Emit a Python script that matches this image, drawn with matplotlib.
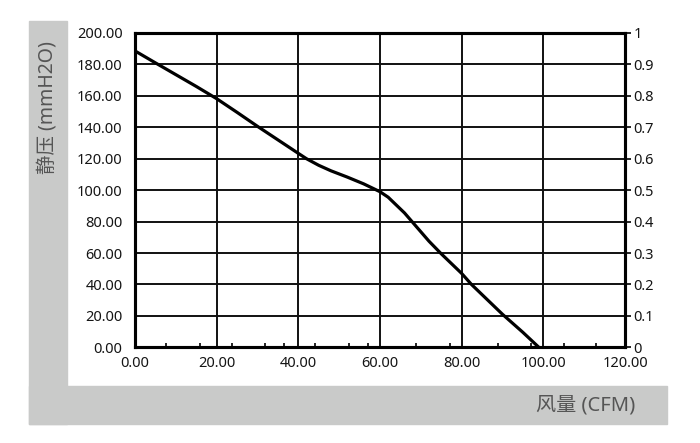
import matplotlib
matplotlib.use("Agg")
import matplotlib.pyplot as plt
from matplotlib.patches import Rectangle

plt.rcParams['font.family'] = ['Noto Sans', 'Noto Sans CJK SC', 'DejaVu Sans']

flow_cfm = [0, 5, 10, 15, 20, 25, 30, 35, 40, 42, 45, 48, 52, 56, 60, 62, 64, 66, 68, 70,
            72, 75, 80, 82.4, 85, 90, 95, 98.9]
pressure_mmh2o = [188.6, 181, 173.5, 166, 158.2, 149.5, 140.6, 132, 123.4, 120, 115.8, 112.3,
                  108.3, 104, 99, 95.5, 90.5, 85.5, 79.5, 73.5, 67.5, 59.5, 47, 40, 33.5, 21,
                  9.5, 0]

x_ticks = [0, 20, 40, 60, 80, 100, 120]
y_ticks = [0, 20, 40, 60, 80, 100, 120, 140, 160, 180, 200]
right_ticks = [0, 0.1, 0.2, 0.3, 0.4, 0.5, 0.6, 0.7, 0.8, 0.9, 1]
right_labels = ['0', '0.1', '0.2', '0.3', '0.4', '0.5', '0.6', '0.7', '0.8', '0.9', '1']
minor_x = [7.5, 16, 23.7, 31.8, 36.6, 44.2, 52.5, 57, 68.7, 77.2, 89, 97, 105, 113]

x_label = '风量 (CFM)'
y_label = '静压 (mmH2O)'

W, H = 700, 443
fig = plt.figure(figsize=(7, 4.43), dpi=100)
gray = '#c9cac9'
fig.patches.append(Rectangle((29 / W, 1 - 424 / H), (67 - 29) / W, (424 - 21) / H,
                             transform=fig.transFigure, color=gray, zorder=0))
fig.patches.append(Rectangle((29 / W, 1 - 424 / H), (667 - 29) / W, (424 - 386) / H,
                             transform=fig.transFigure, color=gray, zorder=0))

ax = fig.add_axes([135 / W, 1 - 347.3 / H, 490 / W, 314.3 / H])
ax.set_facecolor('white')
ax.plot(flow_cfm, pressure_mmh2o, color='black', lw=2.3, zorder=3,
        solid_joinstyle='round')
ax.set_xlim(0, 120)
ax.set_ylim(0, 200)
ax.set_xticks(x_ticks)
ax.set_xticklabels([f'{v:.2f}' for v in x_ticks])
ax.set_yticks(y_ticks)
ax.set_yticklabels([f'{v:.2f}' for v in y_ticks])
ax.set_xticks(minor_x, minor=True)
ax.grid(True, which='major', color='#111111', lw=1.4)
ax.tick_params(axis='both', which='major', length=0, labelsize=10.5, colors='#151515')
ax.tick_params(axis='x', which='major', pad=6)
ax.tick_params(axis='y', which='major', pad=9)
ax.tick_params(axis='x', which='minor', direction='in', length=3, width=1.2, color='black')
for s in ax.spines.values():
    s.set_linewidth(2.2)
    s.set_color('black')

ax2 = ax.twinx()
ax2.set_ylim(0, 1)
ax2.set_yticks(right_ticks)
ax2.set_yticklabels(right_labels)
ax2.tick_params(axis='y', length=4, width=1.2, labelsize=10.5, colors='#151515', pad=2)
ax2.tick_params(axis='y', color='black')
for s in ax2.spines.values():
    s.set_linewidth(2.2)

fig.text(48 / W, 1 - 108 / H, y_label, rotation=90, ha='center', va='center',
         fontsize=14, color='#555555')
fig.text(635 / W, 1 - 405 / H, x_label, ha='right', va='center',
         fontsize=14.5, color='#555555')

fig.savefig('out.png', dpi=100)
